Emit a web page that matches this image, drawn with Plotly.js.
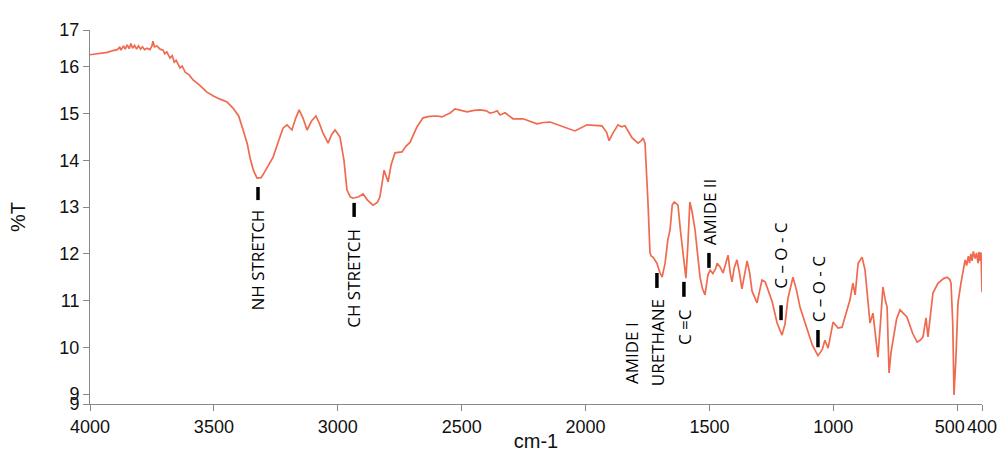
<!DOCTYPE html>
<html>
<head>
<meta charset="utf-8">
<script src="https://cdn.plot.ly/plotly-3.0.1.min.js"></script>
<style>html,body{margin:0;padding:0;background:#fff;}#chart{width:1000px;height:452px;}</style>
</head>
<body>
<div id="chart"></div>
<script>
// Wavenumber (cm-1) and transmittance (%T)
const wavenumber = [4000,3960,3930,3907,3890,3880,3875,3865,3858,3850,3842,3835,3828,3820,3812,3804,3796,3788,3780,3770,3758,3750,3746,3740,3730,3717,3705,3698,3690,3677,3668,3660,3652,3637,3628,3615,3600,3584,3560,3528,3500,3475,3447,3423,3400,3382,3365,3354,3340,3326,3310,3302,3280,3261,3240,3221,3205,3185,3170,3156,3140,3124,3105,3088,3075,3060,3039,3025,3011,2991,2975,2963,2950,2939,2915,2898,2880,2858,2840,2830,2820,2813,2797,2785,2769,2741,2725,2708,2680,2656,2630,2600,2580,2567,2545,2527,2500,2478,2450,2426,2400,2386,2370,2357,2345,2325,2293,2252,2196,2170,2143,2091,2043,1994,1960,1934,1915,1905,1889,1869,1855,1841,1812,1788,1775,1768,1760,1752,1748,1740,1735,1728,1720,1712,1700,1691,1679,1668,1659,1650,1642,1635,1627,1617,1607,1600,1595,1587,1579,1570,1558,1548,1538,1528,1518,1506,1497,1486,1475,1469,1457,1445,1425,1415,1409,1400,1389,1379,1369,1360,1348,1338,1328,1308,1288,1275,1268,1247,1227,1207,1195,1183,1163,1150,1134,1106,1085,1062,1045,1034,1021,1001,981,965,933,921,912,900,884,872,860,852,840,832,820,810,800,790,783,775,767,759,745,731,715,703,680,662,650,638,626,618,598,578,555,541,530,525,518,513,505,497,485,475,468,462,455,450,445,440,435,428,422,416,412,408,404,400];
const transmittance = [16.26,16.28,16.31,16.35,16.37,16.42,16.36,16.45,16.38,16.47,16.39,16.50,16.40,16.46,16.38,16.45,16.38,16.43,16.37,16.40,16.37,16.45,16.55,16.43,16.45,16.38,16.36,16.28,16.32,16.19,16.24,16.10,16.14,15.98,16.02,15.88,15.83,15.72,15.62,15.46,15.37,15.31,15.25,15.12,14.95,14.65,14.35,14.05,13.78,13.62,13.63,13.69,13.88,14.07,14.40,14.69,14.76,14.65,14.90,15.08,14.90,14.65,14.85,14.95,14.80,14.59,14.37,14.55,14.65,14.50,14.00,13.37,13.22,13.19,13.22,13.28,13.15,13.04,13.10,13.22,13.55,13.79,13.54,13.90,14.16,14.18,14.30,14.39,14.72,14.91,14.94,14.95,14.93,14.97,15.02,15.10,15.07,15.04,15.07,15.08,15.06,15.01,15.03,15.06,14.97,15.02,14.89,14.89,14.78,14.81,14.82,14.72,14.63,14.76,14.74,14.74,14.60,14.42,14.59,14.76,14.72,14.74,14.48,14.37,14.42,14.48,14.37,13.60,13.09,12.02,11.95,11.93,11.85,11.80,11.60,11.50,11.80,12.30,12.51,13.05,13.11,13.08,13.04,12.50,12.08,11.75,11.48,12.20,13.11,12.90,12.51,12.00,11.50,11.25,11.12,11.55,11.65,11.58,11.68,11.80,11.72,11.59,11.97,11.55,11.40,11.70,11.87,11.60,11.25,11.50,11.85,11.60,11.20,10.95,11.44,11.40,11.30,10.98,10.52,10.26,10.50,11.05,11.50,11.25,10.85,10.37,10.05,9.82,9.95,10.15,9.98,10.54,10.41,10.43,11.01,11.37,11.12,11.80,11.93,11.65,11.00,10.52,10.73,10.30,9.79,10.50,11.29,11.00,10.86,9.45,9.90,10.15,10.60,10.80,10.72,10.65,10.30,10.11,10.15,10.22,10.63,10.22,11.16,11.37,11.47,11.50,11.45,11.37,10.50,8.98,9.80,10.95,11.37,11.70,11.87,11.75,11.95,11.80,12.00,11.85,12.05,11.90,12.02,11.80,12.04,11.85,12.03,11.18];

// Axis ticks
const xTickVals = [4000,3500,3000,2500,2000,1500,1000,500,400];
const xTickText = ["4000","3500","3000","2500","2000","1500","1000","500\u00A0\u00A0\u00A0","400"];
const yTickVals = [8.786,9,10,11,12,13,14,15,16,16.79];
const yTickText = ["9","9","10","11","12","13","14","15","16","17"];

// Band labels
const bandLabels = ["NH STRETCH","CH STRETCH","AMIDE I","URETHANE","C =C","AMIDE II","C \u2013 O - C","C \u2013 O - C"];
const bandLabelX = [3322,2934,1817,1712,1603,1502,1211,1062];
const bandLabelTop = [13.00,12.57,10.58,11.08,10.86,13.64,12.72,12.02];
// Marker bars for each band
const bandBarX = [3322,2934,1712,1603,1502,1211,1062];
const bandBarY0 = [13.15,12.79,11.27,11.08,11.70,10.58,10.00];
const bandBarY1 = [13.43,13.09,11.59,11.40,12.02,10.90,10.37];

const trace = {
  x: wavenumber, y: transmittance, type: 'scatter', mode: 'lines',
  line: {color: '#EF6A4E', width: 1.7}, hoverinfo: 'x+y'
};

const annotations = bandLabels.map((t, i) => ({
  x: bandLabelX[i], y: bandLabelTop[i], xref: 'x', yref: 'y',
  text: t, showarrow: false, textangle: -90,
  xanchor: 'center', yanchor: 'top',
  font: {family: 'Open Sans, sans-serif', size: 17, color: '#000'}
}));

const shapes = bandBarX.map((x, i) => ({
  type: 'line', xref: 'x', yref: 'y',
  x0: x, x1: x, y0: bandBarY0[i], y1: bandBarY1[i],
  line: {color: '#000', width: 3.5}
}));

const layout = {
  width: 1000, height: 452,
  margin: {l: 90, r: 18, t: 30, b: 48},
  paper_bgcolor: '#fff', plot_bgcolor: '#fff',
  showlegend: false,
  font: {family: 'Liberation Sans, Arial, sans-serif', color: '#111'},
  xaxis: {
    range: [4000, 400], tickvals: xTickVals, ticktext: xTickText, tickangle: 0,
    showgrid: false, zeroline: false, showline: true, linecolor: '#888', linewidth: 1,
    ticks: 'outside', ticklen: 6, tickcolor: '#888',
    tickfont: {size: 18, color: '#111'},
    title: {text: 'cm-1', font: {size: 20, color: '#111'}, standoff: 2},
    automargin: false
  },
  yaxis: {
    range: [8.786, 16.79], tickvals: yTickVals, ticktext: yTickText,
    showgrid: false, zeroline: false, showline: true, linecolor: '#888', linewidth: 1,
    ticks: 'outside', ticklen: 6, tickcolor: '#888',
    tickfont: {size: 18, color: '#111'},
    title: {text: '%T', font: {size: 20, color: '#111'}, standoff: 28},
    automargin: false
  },
  annotations: annotations,
  shapes: shapes
};

Plotly.newPlot('chart', [trace], layout, {displayModeBar: false, staticPlot: true});
</script>
</body>
</html>
